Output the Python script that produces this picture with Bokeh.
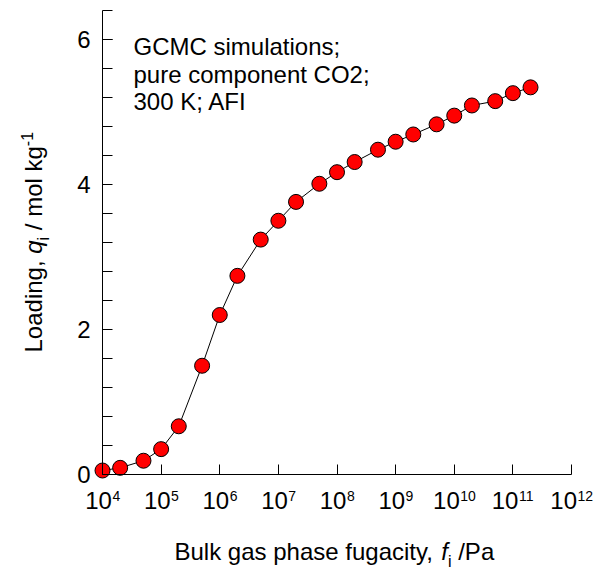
import math
from bokeh.plotting import figure
from bokeh.models import Range1d, FixedTicker, Label, LogAxis, LinearAxis
from bokeh.embed import file_html
from bokeh.resources import INLINE

# ---- data ----
fugacity = [1e4, 2e4, 5e4, 1e5, 2e5, 5e5, 1e6, 2e6, 5e6, 1e7, 2e7, 5e7,
            1e8, 2e8, 5e8, 1e9, 2e9, 5e9, 1e10, 2e10, 5e10, 1e11, 2e11]
loading = [0.055, 0.092, 0.19, 0.35, 0.665, 1.50, 2.20, 2.74, 3.24, 3.50, 3.76, 4.01,
           4.17, 4.31, 4.48, 4.59, 4.69, 4.83, 4.95, 5.09, 5.15, 5.26, 5.34]

x_ticks = [1e4, 1e5, 1e6, 1e7, 1e8, 1e9, 1e10, 1e11, 1e12]
x_tick_base = ["10"] * 9
x_tick_exponents = ["4", "5", "6", "7", "8", "9", "10", "11", "12"]
y_ticks = [0, 2, 4, 6]
y_minor_ticks = [0.4, 0.8, 1.2, 1.6, 2.4, 2.8, 3.2, 3.6, 4.4, 4.8, 5.2, 5.6, 6.0, 6.4]

x_axis_span = (1e4, 1e12)
y_axis_span = (0, 6.4)

annotation_lines = ["GCMC simulations;", "pure component CO2;", "300 K; AFI"]

FONT = "Liberation Sans"

# ---- layout (canvas pixels) ----
W_PX, H_PX = 601, 571
LEFT, RIGHT, TOP, BOTTOM = 102, 571, 10, 474   # where the axis spans sit
FIX = 9   # raise text so that its baseline lands where intended
dec_px = (RIGHT - LEFT) / (math.log10(x_axis_span[1]) - math.log10(x_axis_span[0]))
unit_px = (BOTTOM - TOP) / (y_axis_span[1] - y_axis_span[0])
x_start = 10 ** (math.log10(x_axis_span[0]) - LEFT / dec_px)
x_end = 10 ** (math.log10(x_axis_span[1]) + (W_PX - RIGHT) / dec_px)
y_start = y_axis_span[0] - (H_PX - BOTTOM) / unit_px
y_end = y_axis_span[1] + TOP / unit_px

p = figure(width=W_PX, height=H_PX, x_axis_type="log",
           x_axis_location=None, y_axis_location=None,
           x_range=Range1d(x_start, x_end), y_range=Range1d(y_start, y_end),
           output_backend="svg", toolbar_location=None,
           min_border_left=0, min_border_right=0, min_border_top=0, min_border_bottom=0)
p.title.visible = False
p.background_fill_color = "white"
p.border_fill_color = "white"
p.outline_line_color = None
p.xgrid.visible = False
p.ygrid.visible = False

xaxis = LogAxis(fixed_location=y_axis_span[0], bounds=x_axis_span,
                ticker=FixedTicker(ticks=x_ticks, minor_ticks=[]))
yaxis = LinearAxis(fixed_location=x_axis_span[0], bounds=y_axis_span,
                   ticker=FixedTicker(ticks=y_ticks, minor_ticks=y_minor_ticks))
for ax in (xaxis, yaxis):
    ax.axis_line_color = "black"
    ax.axis_line_width = 1
    ax.major_tick_line_color = "black"
    ax.major_tick_in = 10
    ax.major_tick_out = 0
    ax.minor_tick_line_color = "black"
    ax.minor_tick_in = 10
    ax.minor_tick_out = 0
    ax.major_label_text_font = FONT
    ax.major_label_text_font_size = "24px"
    ax.major_label_text_color = "black"
xaxis.major_label_text_font_size = "0px"
xaxis.major_label_text_color = None
yaxis.major_label_standoff = 12
p.add_layout(xaxis, "below")
p.add_layout(yaxis, "left")

# data
p.line(fugacity, loading, line_color="black", line_width=1)
p.scatter(fugacity, loading, size=15, fill_color="red", line_color="black", line_width=1)

# width helper (Arial / Liberation Sans advance widths per 1000 em)
CW = {" ": 278, ",": 278, "/": 278, "-": 333, "B": 667, "P": 667, "L": 556,
      "a": 556, "c": 500, "d": 556, "e": 556, "f": 278, "g": 556, "h": 556, "i": 222,
      "k": 500, "l": 222, "m": 833, "n": 556, "o": 556, "p": 556, "q": 556, "s": 500,
      "t": 278, "u": 556, "y": 500}

def width(s, size):
    return sum(CW.get(c, 556) for c in s) * size / 1000.0

# x tick labels: "10" + superscript exponent, centred on each tick
TICK_FS, SUP_FS = 24, 14
for t, base, ex in zip(x_ticks, x_tick_base, x_tick_exponents):
    wb, we = width(base, TICK_FS), width(ex, SUP_FS)
    junction = -(wb + we) / 2 + wb
    p.add_layout(Label(x=t, y=y_axis_span[0], x_offset=junction, y_offset=-35 + FIX,
                       text=base, text_font=FONT, text_font_size=f"{TICK_FS}px",
                       text_color="black", text_align="right", text_baseline="alphabetic"))
    p.add_layout(Label(x=t, y=y_axis_span[0], x_offset=junction + 0.5, y_offset=-27 + FIX * 0.6,
                       text=ex, text_font=FONT, text_font_size=f"{SUP_FS}px",
                       text_color="black", text_align="left", text_baseline="alphabetic"))

# annotation text (screen units: frame == whole canvas, y upward)
for i, t in enumerate(annotation_lines):
    p.add_layout(Label(x=133, y=H_PX - (55 + 27.5 * i) + FIX, x_units="screen", y_units="screen",
                       text=t, text_font=FONT, text_font_size="24px",
                       text_color="black", text_baseline="alphabetic", text_align="left"))

def add_pieces(pieces, cx, cy, rotated):
    pos = 0.0
    for text, size, style, shift in pieces:
        lead = len(text) - len(text.lstrip(" "))
        pos += width(" " * lead, size)
        text = text.lstrip(" ")
        fix = FIX * size / 24.0
        if rotated:
            sx, sy = cx - shift - fix, (H_PX - cy) + pos
        else:
            sx, sy = cx + pos, (H_PX - cy) + shift + fix
        p.add_layout(Label(x=sx, y=sy, x_units="screen", y_units="screen", text=text,
                           text_font=FONT, text_font_size=f"{size}px", text_font_style=style,
                           text_color="black", text_baseline="alphabetic", text_align="left",
                           angle=math.pi / 2 if rotated else 0))
        pos += width(text, size)

FS = 24
# x axis label
add_pieces([("Bulk gas phase fugacity, ", FS, "normal", 0),
            ("f", FS, "italic", 0),
            ("i", 16, "normal", -7),
            (" /Pa", FS, "normal", 0)], 174, 560, False)
# y axis label
add_pieces([("Loading, ", FS, "normal", 0),
            ("q", FS, "italic", 0),
            ("i", 16, "normal", -7),
            (" / mol kg", FS, "normal", 0),
            ("-1", 16, "normal", 10)], 42, 352, True)

open("out.html", "w").write(file_html(p, INLINE))
